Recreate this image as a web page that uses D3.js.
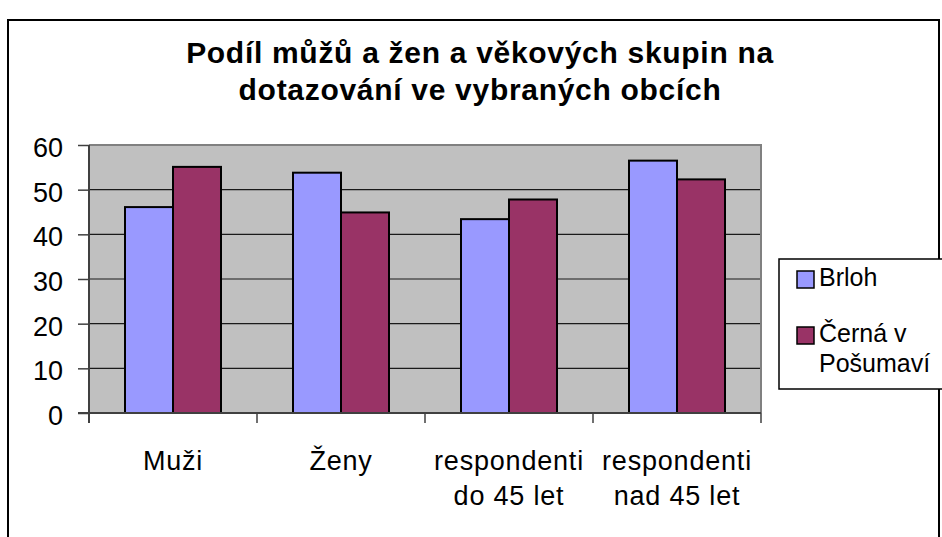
<!DOCTYPE html>
<html>
<head>
<meta charset="utf-8">
<title>Podíl mužů a žen a věkových skupin</title>
<script src="https://d3js.org/d3.v7.min.js"></script>
<style>
  body { margin: 0; background: white; }
  svg { display: block; }
  text { font-family: 'Liberation Sans', Arial, sans-serif; fill: black; }
</style>
</head>
<body>
<svg id="chart"></svg>
<script>
// data
var categories = ["Muži", "Ženy", "respondenti\ndo 45 let", "respondenti\nnad 45 let"];
var seriesNames = ["Brloh", "Černá v\nPošumaví"];
var brloh = [46.1, 53.8, 43.4, 56.5];
var cerna = [55.1, 44.9, 47.8, 52.3];
var yTicks = [0, 10, 20, 30, 40, 50, 60];
var titleLines = ["Podíl můžů a žen a věkových skupin na", "dotazování ve vybraných obcích"];

var colors = ["#9999FF", "#993366"];

var width = 942, height = 537;
var plot = { left: 89, right: 761, top: 145, bottom: 413 };

var svg = d3.select("#chart").attr("width", width).attr("height", height);

// outer chart frame
svg.append("rect")
  .attr("x", 8).attr("y", 20)
  .attr("width", 931).attr("height", 600)
  .attr("fill", "white").attr("stroke", "black").attr("stroke-width", 2);

// title
svg.append("text")
  .attr("x", 480).attr("y", 63)
  .attr("text-anchor", "middle")
  .style("font-size", "30px").style("font-weight", "bold").style("letter-spacing", "0.7px")
  .selectAll("tspan")
  .data(titleLines)
  .enter().append("tspan")
  .attr("x", 480)
  .attr("dy", function(d, i) { return i === 0 ? 0 : 37; })
  .text(function(d) { return d; });

var x0 = d3.scaleBand().domain(categories).range([plot.left, plot.right]).padding(0);
var x1 = d3.scaleBand().domain(seriesNames).range([0, x0.bandwidth()]).paddingInner(0).paddingOuter(0.75);
var y = d3.scaleLinear().domain([0, 60]).range([plot.bottom, plot.top]);

// plot area
svg.append("rect")
  .attr("x", plot.left).attr("y", plot.top)
  .attr("width", plot.right - plot.left).attr("height", plot.bottom - plot.top)
  .attr("fill", "#C0C0C0");

// gridlines
svg.append("g").selectAll("line")
  .data(yTicks.filter(function(t) { return t > 0 && t < 60; }))
  .enter().append("line")
  .attr("x1", plot.left).attr("x2", plot.right)
  .attr("y1", function(d) { return y(d); }).attr("y2", function(d) { return y(d); })
  .attr("stroke", "#1a1a1a").attr("stroke-width", 1.2);

// plot border top/right
svg.append("path")
  .attr("d", "M" + plot.left + "," + plot.top + "H" + plot.right + "V" + plot.bottom)
  .attr("fill", "none").attr("stroke", "#808080").attr("stroke-width", 2);

// bars
var rows = categories.map(function(c, i) {
  return { cat: c, vals: [brloh[i], cerna[i]] };
});
var groups = svg.append("g").selectAll("g")
  .data(rows)
  .enter().append("g")
  .attr("transform", function(d) { return "translate(" + x0(d.cat) + ",0)"; });

groups.selectAll("rect")
  .data(function(d) { return d.vals.map(function(v, j) { return { s: seriesNames[j], v: v, j: j }; }); })
  .enter().append("rect")
  .attr("x", function(d) { return x1(d.s); })
  .attr("y", function(d) { return y(d.v); })
  .attr("width", x1.bandwidth())
  .attr("height", function(d) { return y(0) - y(d.v); })
  .attr("fill", function(d) { return colors[d.j]; })
  .attr("stroke", "black").attr("stroke-width", 2);

// y axis
var yAxis = svg.append("g")
  .attr("transform", "translate(" + plot.left + ",0)")
  .call(d3.axisLeft(y).tickValues(yTicks).tickSize(11).tickPadding(15));
yAxis.select(".domain").attr("stroke", "#404040").attr("stroke-width", 2)
  .attr("d", "M0," + plot.top + "V" + (plot.bottom + 10));
yAxis.selectAll(".tick line").attr("stroke", "#404040").attr("stroke-width", 1.5);
yAxis.selectAll(".tick text")
  .style("font-size", "27px").attr("dy", "0.43em")
  .style("font-family", "'Liberation Sans', Arial, sans-serif").attr("fill", "black");

// x axis line and ticks at category boundaries
var xAxisG = svg.append("g");
xAxisG.append("line")
  .attr("x1", plot.left - 11).attr("x2", plot.right)
  .attr("y1", plot.bottom).attr("y2", plot.bottom)
  .attr("stroke", "#404040").attr("stroke-width", 2);
var bounds = categories.map(function(c) { return x0(c); }).concat([plot.right]);
xAxisG.selectAll(".xtick")
  .data(bounds)
  .enter().append("line")
  .attr("x1", function(d) { return d; }).attr("x2", function(d) { return d; })
  .attr("y1", plot.bottom).attr("y2", plot.bottom + 10)
  .attr("stroke", "#404040").attr("stroke-width", 1.5);

// category labels
xAxisG.selectAll(".xlabel")
  .data(categories)
  .enter().append("text")
  .attr("text-anchor", "middle")
  .attr("y", 470)
  .style("font-size", "27px").style("letter-spacing", "0.8px")
  .each(function(c) {
    var t = d3.select(this);
    var cx = x0(c) + x0.bandwidth() / 2;
    c.split("\n").forEach(function(line, i) {
      t.append("tspan").attr("x", cx).attr("dy", i === 0 ? 0 : 35).text(line);
    });
  });

// legend
var legend = svg.append("g");
legend.append("rect")
  .attr("x", 779).attr("y", 259)
  .attr("width", 200).attr("height", 130)
  .attr("fill", "white").attr("stroke", "black").attr("stroke-width", 1.5);

var legendY = [271, 327];
seriesNames.forEach(function(name, i) {
  legend.append("rect")
    .attr("x", 797).attr("y", legendY[i])
    .attr("width", 17).attr("height", 17)
    .attr("fill", colors[i]).attr("stroke", "black").attr("stroke-width", 1.5);
  var t = legend.append("text")
    .attr("y", legendY[i] + 15)
    .style("font-size", "25px");
  name.split("\n").forEach(function(line, k) {
    t.append("tspan").attr("x", 819).attr("dy", k === 0 ? 0 : 30).text(line);
  });
});
</script>
</body>
</html>
